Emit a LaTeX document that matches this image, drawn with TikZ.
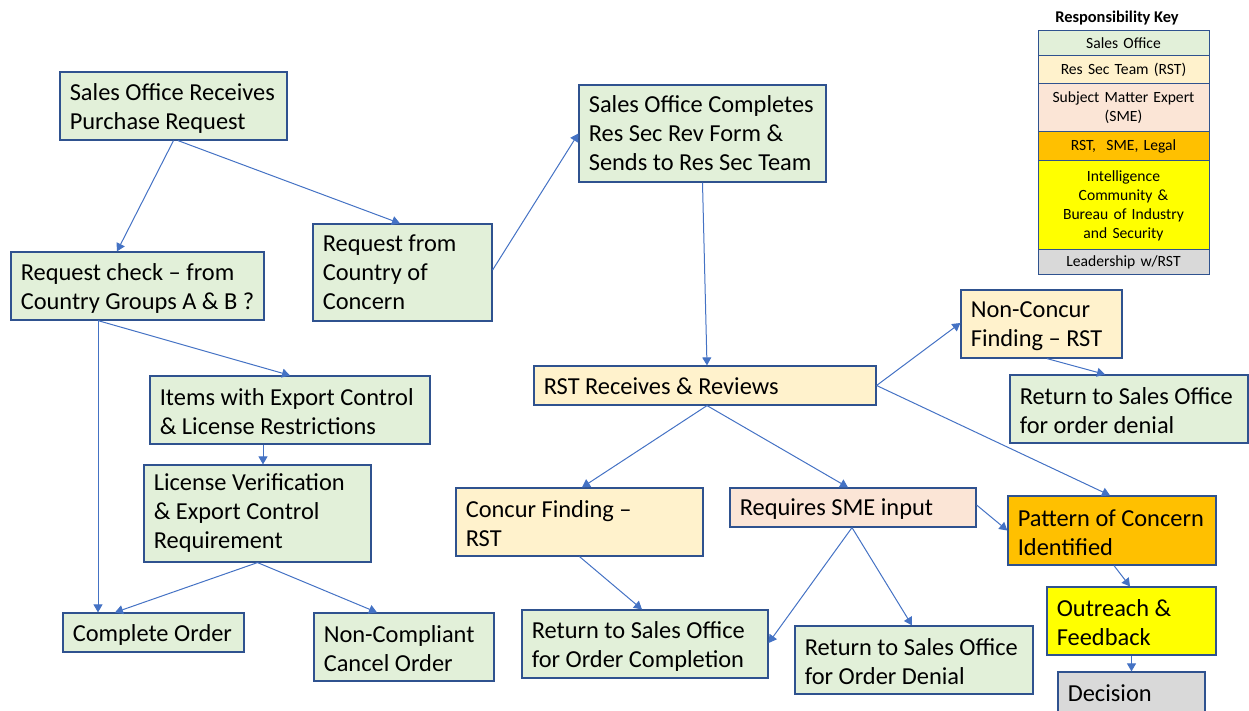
\documentclass[tikz,border=0pt]{standalone}
\usepackage{fontspec}
\setmainfont{Carlito}
\usetikzlibrary{arrows.meta}
\definecolor{bord}{HTML}{2F528F}
\definecolor{lnk}{HTML}{4472C4}
\definecolor{cgreen}{HTML}{E2F0D9}
\definecolor{cyel}{HTML}{FFF2CC}
\definecolor{cpink}{HTML}{FBE5D6}
\definecolor{corange}{HTML}{FFC000}
\definecolor{cyellow}{HTML}{FFFF00}
\definecolor{cgrey}{HTML}{D9D9D9}
\tikzset{
  box/.style={draw=bord, line width=0.6pt, inner sep=0pt},
  boxtext/.style={anchor=west, inner sep=0pt, align=left,
    font=\fontsize{12.2}{14.5}\selectfont},
  keycell/.style={draw=bord, line width=0.5pt, inner sep=0pt, align=center,
    minimum width=85.5pt, text width=80pt,
    font=\fontsize{7.8}{9.5}\selectfont},
  conn/.style={draw=lnk, line width=0.5pt, -{Triangle[length=4pt,width=4.5pt]}}
}
\newcommand{\mkbox}[7][-1pt]{%
  \node[box,fill=#6,minimum width=#4,minimum height=#5] (#2) at #3 {};
  \node[boxtext] (#2t) at ([xshift=5pt,yshift=#1]#2.west) {#7};}
\begin{document}
\begin{tikzpicture}[x=0.5pt,y=-0.5pt]
\useasboundingbox (0,0) rectangle (1249,711);
% main boxes
\mkbox{b1}{(173.5,106)}{113.5pt}{34pt}{cgreen}{Sales Office Receives\\Purchase Request}
\mkbox{b2}{(137.5,286)}{126.5pt}{34pt}{cgreen}{Request check -- from\\Country Groups A \& B ?}
\mkbox[0pt]{b3}{(402.5,272.5)}{89.5pt}{48.5pt}{cgreen}{Request from\\Country of\\Concern}
\mkbox{b4}{(290,410)}{140pt}{34pt}{cgreen}{Items with Export Control\\\& License Restrictions}
\mkbox[0pt]{b5}{(257.5,513.5)}{113.5pt}{48.5pt}{cgreen}{License Verification\\\& Export Control\\Requirement}
\mkbox{b6}{(153.5,632.5)}{90.5pt}{19.5pt}{cgreen}{Complete Order}
\mkbox{b7}{(404,647)}{90pt}{34pt}{cgreen}{Non-Compliant\\Cancel Order}
\mkbox[0pt]{b8}{(702.5,133.5)}{123.5pt}{48.5pt}{cgreen}{Sales Office Completes\\Res Sec Rev Form \&\\Sends to Res Sec Team}
\mkbox[-0.5pt]{b9}{(705,385.5)}{171pt}{19.5pt}{cyel}{RST Receives \& Reviews}
\mkbox{b10}{(579.5,522)}{123.5pt}{34pt}{cyel}{Concur Finding --\\RST}
\mkbox{b11}{(853,507.5)}{123pt}{19.5pt}{cpink}{Requires SME input}
\mkbox{b12}{(645,644)}{123pt}{34pt}{cgreen}{Return to Sales Office\\for Order Completion}
\mkbox{b13}{(914,660)}{119pt}{34pt}{cgreen}{Return to Sales Office\\for Order Denial}
\mkbox{b14}{(1041.5,324)}{80.5pt}{34pt}{cyel}{Non-Concur\\Finding -- RST}
\mkbox{b15}{(1129,409)}{119pt}{34pt}{cgreen}{Return to Sales Office\\for order denial}
\mkbox{b16}{(1112,530.5)}{104pt}{34.5pt}{corange}{Pattern of Concern\\Identified}
\mkbox{b17}{(1131.5,621)}{84.5pt}{34pt}{cyellow}{Outreach \&\\Feedback}
\mkbox[0pt]{b18}{(1131.5,693.5)}{73.5pt}{21.5pt}{cgrey}{Decision}
% key
\node[font=\bfseries\fontsize{8.2}{9.5}\selectfont] (kt) at (1117,18) {Responsibility Key};
\node[keycell,fill=cgreen,minimum height=12.5pt] (k1) at (1123.5,43.5) {Sales Office};
\node[keycell,fill=cyel,minimum height=14pt] (k2) at (1123.5,70) {Res Sec Team (RST)};
\node[keycell,fill=cpink,minimum height=24pt] (k3) at (1123.5,108) {Subject Matter Expert\\(SME)};
\node[keycell,fill=corange,minimum height=14.5pt] (k4) at (1123.5,146.5) {RST,\ \ SME, Legal};
\node[keycell,fill=cyellow,minimum height=44.5pt] (k5) at (1123.5,205.5) {Intelligence\\Community \&\\Bureau of Industry\\and Security};
\node[keycell,fill=cgrey,minimum height=12.5pt] (k6) at (1123.5,262.5) {Leadership w/RST};
% connectors
\draw[conn] (b1.south) -- ([xshift=-10.25pt]b2.north);
\draw[conn] ([xshift=2.25pt]b1.south) -- ([xshift=-1.25pt]b3.north);
\draw[conn] ([xshift=-19.75pt]b2.south) -- ([xshift=-27.75pt]b6.north);
\draw[conn] ([xshift=-19.75pt]b2.south) -- (b4.north);
\draw[conn] ([xshift=-13.5pt]b4.south) -- ([xshift=2.75pt]b5.north);
\draw[conn] (b5.south) -- ([xshift=-19.25pt]b6.north);
\draw[conn] (b5.south) -- ([xshift=-13.5pt]b7.north);
\draw[conn] ([yshift=1.25pt]b3.east) -- (b8.west);
\draw[conn] (b8.south) -- ([xshift=1pt]b9.north);
\draw[conn] ([xshift=1pt]b9.south) -- ([xshift=1.25pt]b10.north);
\draw[conn] ([xshift=1pt]b9.south) -- ([xshift=-2.5pt]b11.north);
\draw[conn] (b9.east) -- ([yshift=0.5pt]b14.west);
\draw[conn] (b9.east) -- ([xshift=-1pt]b16.north);
\draw[conn] ([xshift=2.75pt]b14.south) -- ([xshift=-12pt]b15.north);
\draw[conn] (b10.south) -- ([xshift=-1.5pt]b12.north);
\draw[conn] ([xshift=-0.5pt]b11.south) -- ([yshift=0.5pt]b12.east);
\draw[conn] ([xshift=-0.5pt]b11.south) -- ([xshift=-1pt]b13.north);
\draw[conn] ([yshift=1.25pt]b11.east) -- (b16.west);
\draw[conn] ([xshift=1pt]b16.south) -- ([xshift=-0.75pt]b17.north);
\draw[conn] (b17.south) -- (b18.north);
\end{tikzpicture}
\end{document}
